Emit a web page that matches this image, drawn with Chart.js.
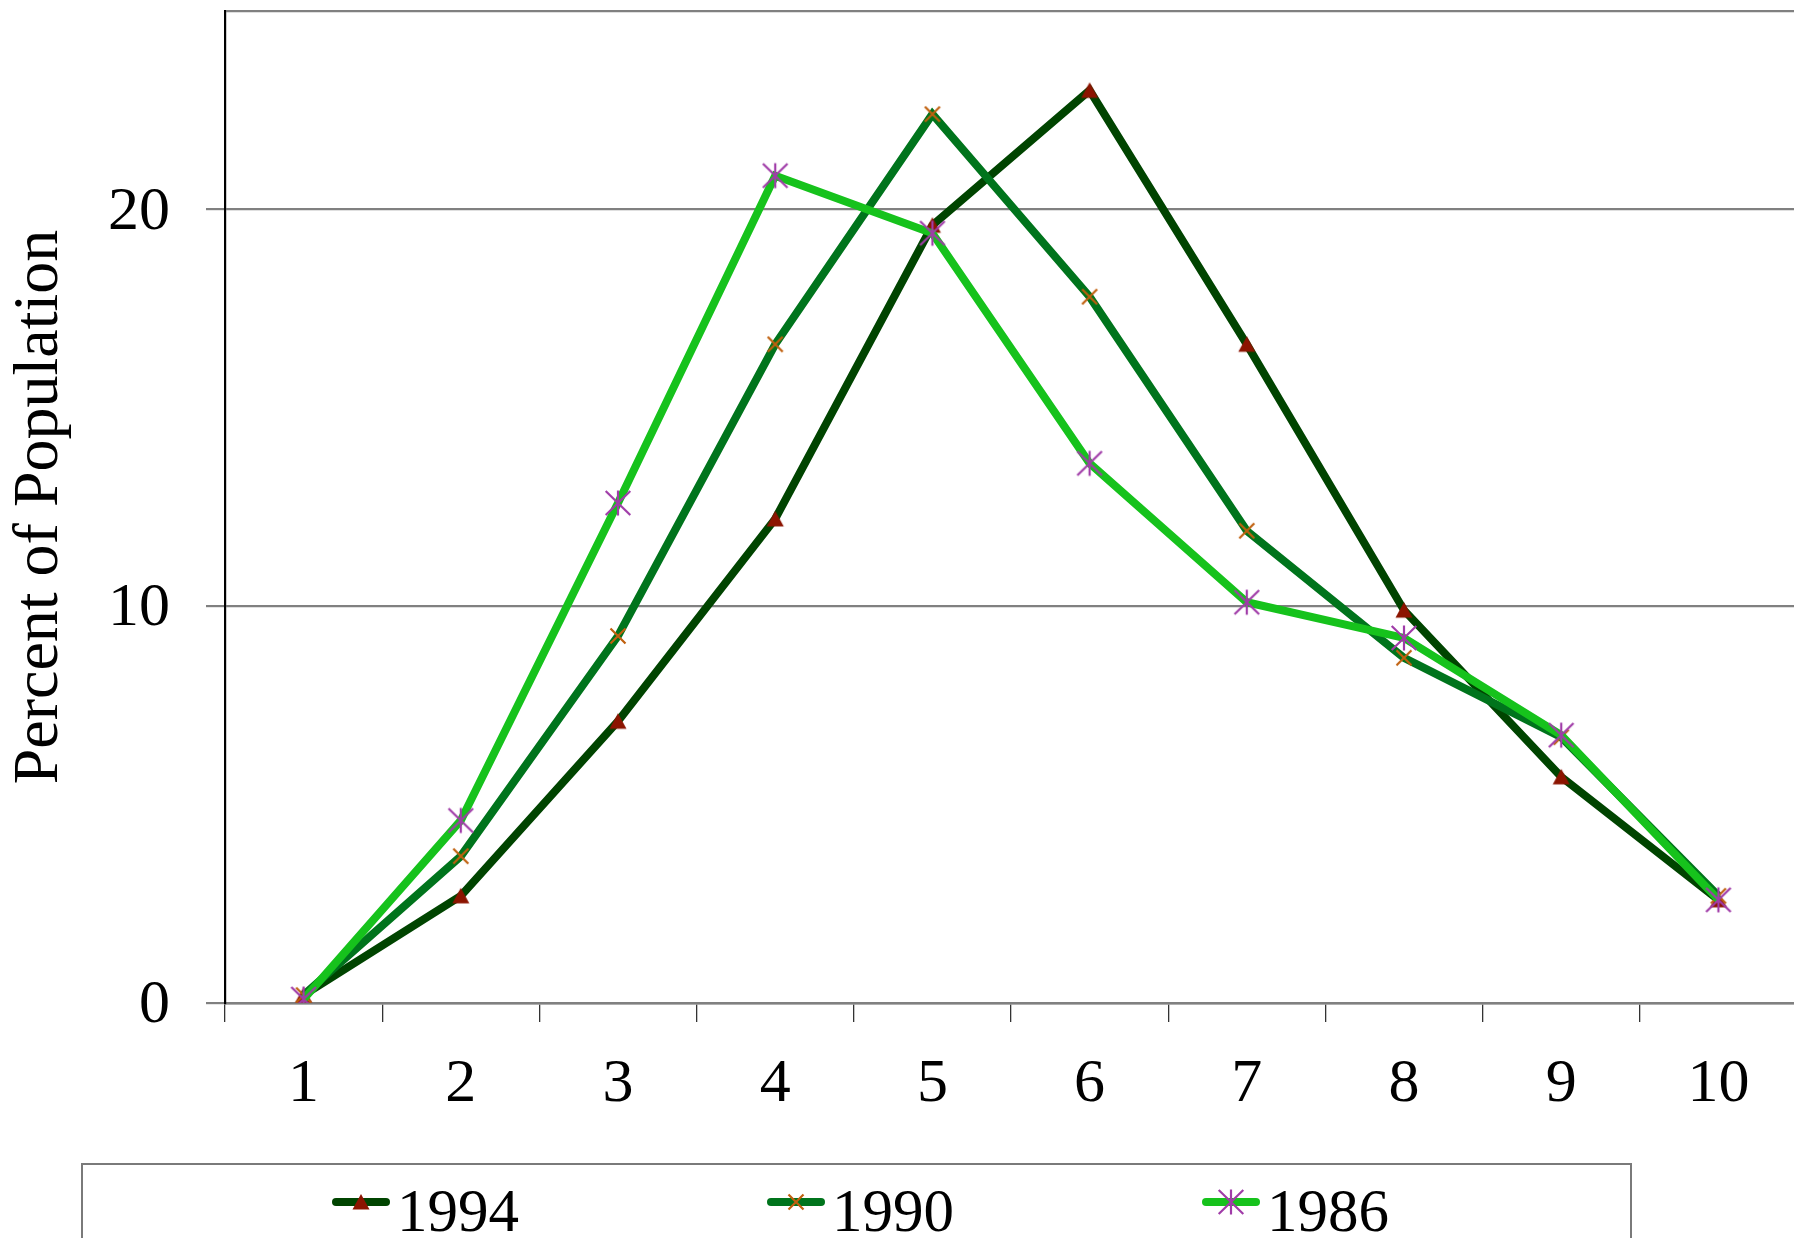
<!DOCTYPE html>
<html><head><meta charset="utf-8">
<script src="https://cdn.jsdelivr.net/npm/chart.js@4/dist/chart.umd.min.js"></script>
<style>
html,body{margin:0;padding:0;background:#fff;overflow:hidden;width:1794px;height:1238px;}
#c{position:absolute;left:0;top:0;}
</style></head><body><canvas id="c" width="1797" height="1238" style="width:1797px;height:1238px"></canvas>
<script>
const categories = ['1','2','3','4','5','6','7','8','9','10'];
const series1994 = [0.2, 2.7, 7.1, 12.2, 19.6, 23.0, 16.6, 9.9, 5.7, 2.6];
const series1990 = [0.2, 3.7, 9.25, 16.6, 22.4, 17.8, 11.9, 8.7, 6.7, 2.7];
const series1986 = [0.1, 4.6, 12.6, 20.85, 19.4, 13.6, 10.1, 9.2, 6.75, 2.6];
const seriesLabels = ['1994', '1990', '1986'];
const yMin = 0, yMax = 25, yStep = 10;
const yTickLabels = ['0', '10', '20'];
const yTitle = 'Percent of Population';

const serif = '"Liberation Serif", "Times New Roman", serif';

function makeMarker(kind, color) {
  const c = document.createElement('canvas');
  c.width = 36; c.height = 36;
  const g = c.getContext('2d');
  const m = 18;
  g.lineCap = 'butt';
  if (kind === 'triangle') {
    g.fillStyle = color;
    g.beginPath();
    g.moveTo(m, m - 8); g.lineTo(m + 8.5, m + 7.5); g.lineTo(m - 8.5, m + 7.5);
    g.closePath(); g.fill();
  } else if (kind === 'x') {
    g.strokeStyle = color; g.lineWidth = 2.2;
    g.beginPath();
    g.moveTo(m - 7.5, m - 7.5); g.lineTo(m + 7.5, m + 7.5);
    g.moveTo(m + 7.5, m - 7.5); g.lineTo(m - 7.5, m + 7.5);
    g.stroke();
  } else {
    g.strokeStyle = color; g.lineWidth = 2.2;
    g.beginPath();
    g.moveTo(m - 12.3, m - 12); g.lineTo(m + 12.3, m + 12);
    g.moveTo(m + 12.3, m - 12); g.lineTo(m - 12.3, m + 12);
    g.moveTo(m, m - 12.5); g.lineTo(m, m + 12.5);
    g.stroke();
  }
  return c;
}

const styles = [
  {line:'#004400', marker: makeMarker('triangle', '#8c1400')},
  {line:'#00741c', marker: makeMarker('x', '#c0600e')},
  {line:'#16c21c', marker: makeMarker('star', '#a03ca8')}
];
const seriesData = [series1994, series1990, series1986];

// Chart.js draws dataset index 0 on top, so 1986 goes first
const datasets = [2,1,0].map(i => ({
  label: seriesLabels[i],
  data: seriesData[i],
  borderColor: styles[i].line,
  backgroundColor: styles[i].line,
  borderWidth: 8,
  tension: 0,
  pointStyle: styles[i].marker,
  pointRadius: 12,
  pointHoverRadius: 12
}));

const boxLegend = {
  id: 'boxLegend',
  afterDraw(chart) {
    const ctx = chart.ctx;
    ctx.save();
    ctx.strokeStyle = '#7a7a7a';
    ctx.lineWidth = 2;
    ctx.strokeRect(82, 1164, 1549, 120);
    seriesLabels.forEach((lab, i) => {
      const st = styles[i];
      const x0 = 332 + i * 435, y = 1202;
      ctx.strokeStyle = st.line;
      ctx.lineWidth = 8;
      ctx.lineCap = 'round';
      ctx.beginPath(); ctx.moveTo(x0 + 4, y); ctx.lineTo(x0 + 54, y); ctx.stroke();
      ctx.drawImage(st.marker, x0 + 29 - 18, y - 18);
      ctx.fillStyle = '#000';
      ctx.font = '61px ' + serif;
      ctx.textBaseline = 'alphabetic';
      ctx.textAlign = 'left';
      ctx.fillText(lab, x0 + 65, 1231);
    });
    ctx.restore();
  }
};

new Chart(document.getElementById('c'), {
  type: 'line',
  data: { labels: categories, datasets },
  options: {
    responsive: false,
    maintainAspectRatio: false,
    animation: false,
    devicePixelRatio: 1,
    layout: { autoPadding: false, padding: { top: 11, left: 0, right: 0, bottom: 0 } },
    plugins: { legend: { display: false }, tooltip: { enabled: false } },
    scales: {
      x: {
        type: 'category',
        offset: true,
        grid: { offset: true, drawOnChartArea: false, drawTicks: true, tickLength: 19, tickColor: '#333', lineWidth: 1.3 },
        border: { display: true, color: '#808080', width: 2.5 },
        ticks: { color: '#000', font: { family: serif, size: 62 }, padding: 26, maxRotation: 0, autoSkip: false },
        afterFit(s) { s.height = 235; s.paddingLeft = 0; s.paddingRight = 0; }
      },
      y: {
        min: yMin, max: yMax,
        ticks: {
          stepSize: yStep, color: '#000', font: { family: serif, size: 62 }, padding: 36, labelOffset: 3,
          callback: (v) => { const k = yTickLabels.indexOf(String(v)); return k >= 0 ? yTickLabels[k] : ''; }
        },
        grid: {
          color: '#808080', lineWidth: 2.2, tickLength: 19,
          tickColor: (c) => (c.tick && c.tick.value === yMax) ? 'rgba(0,0,0,0)' : '#808080'
        },
        border: { display: true, color: '#000', width: 2.2 },
        title: { display: true, text: yTitle, color: '#000', font: { family: serif, size: 64 }, padding: { top: 2, bottom: 0 } },
        afterFit(s) { s.width = 225; s.paddingTop = 0; s.paddingBottom = 0; }
      }
    }
  },
  plugins: [boxLegend]
});
</script></body></html>
